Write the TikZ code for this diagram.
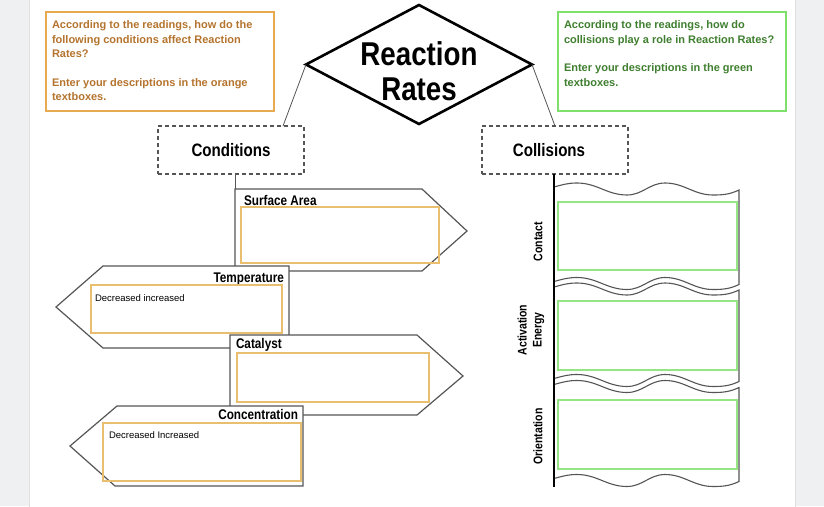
\documentclass[tikz,border=0pt]{standalone}
\usepackage{fontspec}
\setmainfont{Liberation Sans}
\newfontfamily\condfont[FakeStretch=0.84]{Liberation Sans}
\usetikzlibrary{shapes.geometric}
\definecolor{pagegrey}{HTML}{EFF0F2}
\definecolor{darkgrey}{HTML}{555555}
\definecolor{orangeline}{HTML}{E8AA50}
\definecolor{orangebox}{HTML}{E9BE6E}
\definecolor{orangetext}{HTML}{B5742E}
\definecolor{greenline}{HTML}{7EE06A}
\definecolor{greenbox}{HTML}{95E585}
\definecolor{greentext}{HTML}{3F7F2F}
\begin{document}
\begin{tikzpicture}[x=1pt,y=-1pt,
  every node/.style={outer sep=0pt},
  notebox/.style={draw=#1, line width=1.4pt, anchor=north west, minimum width=228pt, minimum height=99pt},
  notetext/.style={anchor=north west, inner sep=0pt, align=left, text=#1, font=\bfseries\fontsize{11}{14.3}\selectfont},
  headbox/.style={draw=darkgrey, dash pattern=on 4pt off 3pt, line width=1.1pt, minimum width=146pt, minimum height=48pt, font=\condfont\bfseries\fontsize{18}{20}\selectfont},
  sign/.style={draw=darkgrey, line width=1.2pt, fill=white},
  signlabel/.style={inner sep=0pt, font=\condfont\bfseries\fontsize{14}{16}\selectfont},
  answerbox/.style={draw=#1, line width=1.2pt, anchor=north west},
  answertext/.style={inner sep=0pt, anchor=base west, font=\fontsize{9.5}{11}\selectfont},
  sidelabel/.style={rotate=90, align=center, inner sep=0pt, font=\condfont\bfseries\fontsize{12.5}{15}\selectfont},
  wave/.style={draw=darkgrey, line width=1.1pt, fill=white},
  link/.style={draw=darkgrey, line width=0.8pt}]
\useasboundingbox (0,0) rectangle (824,506);
\fill[pagegrey] (0,0) rectangle (824,506);
\fill[white, draw=gray!25] (29,-2) rectangle (795,508);
\node[notebox=orangeline] (condNote) at (46,12) {};
\node[notetext=orangetext] (condNoteText) at ([xshift=6pt,yshift=-9pt]condNote.north west) {According to the readings, how do the\\following conditions affect Reaction\\Rates?\\[14.3pt]Enter your descriptions in the orange\\textboxes.};
\node[notebox=greenline] (collNote) at (558,12) {};
\node[notetext=greentext] (collNoteText) at ([xshift=6pt,yshift=-9pt]collNote.north west) {According to the readings, how do\\collisions play a role in Reaction Rates?\\[14.3pt]Enter your descriptions in the green\\textboxes.};
\node[diamond, draw, line width=2.6pt, minimum width=226pt, minimum height=119pt, inner sep=0pt] (rates) at (419,64.5) {};
\node[align=center, inner sep=0pt, font=\condfont\bfseries\fontsize{33}{35}\selectfont] (ratesText) at ([yshift=-7pt]rates.center) {Reaction\\Rates};
\node[headbox] (cond) at (231,150) {Conditions};
\node[headbox] (coll) at (555,150) {Collisions\hspace*{12pt}};
\draw[link] (rates.west) -- ([xshift=52pt]cond.north);
\draw[link] (rates.east) -- (coll.north);
\coordinate (sa) at (235,189);
\draw[link] (cond.south -| sa) -- (sa);
\draw[sign] (sa) -- ++(187,0) -- ++(45,42) -- ++(-45,40) -- ++(-187,0) -- cycle;
\node[signlabel, anchor=base west] (saLabel) at (244,205) {Surface Area};
\node[answerbox=orangebox, minimum width=198pt, minimum height=56pt] (saBox) at (241,207) {};
\coordinate (temp) at (289,266);
\draw[sign] (temp) -- ++(-186,0) -- ++(-47,41) -- ++(47,41) -- ++(186,0) -- cycle;
\node[signlabel, anchor=base east] (tempLabel) at (284,282) {Temperature};
\node[answerbox=orangebox, minimum width=191pt, minimum height=48pt] (tempBox) at (91,285) {};
\node[answertext] (tempText) at (95,301) {Decreased increased};
\coordinate (cat) at (230,335);
\draw[sign] (cat) -- ++(187,0) -- ++(46,41) -- ++(-46,39) -- ++(-187,0) -- cycle;
\node[signlabel, anchor=base west] (catLabel) at (236,348) {Catalyst};
\node[answerbox=orangebox, minimum width=192pt, minimum height=49pt] (catBox) at (237,353) {};
\coordinate (conc) at (303,406);
\draw[sign] (conc) -- ++(-186,0) -- ++(-47,40) -- ++(45,40) -- ++(188,0) -- cycle;
\node[signlabel, anchor=base east] (concLabel) at (298,419) {Concentration};
\node[answerbox=orangebox, minimum width=198pt, minimum height=58pt] (concBox) at (103,423) {};
\node[answertext] (concText) at (109,438) {Decreased Increased};
\foreach \ytop/\ybot in {189/283.5, 289/380.5, 386.5/480.5}
  \draw[wave] (554,\ytop-2) to[out=15,in=180] (577,\ytop-6) to[out=0,in=180] (627,\ytop+6)
    to[out=0,in=180] (665,\ytop-6) to[out=0,in=180] (713,\ytop+6) to[out=0,in=205] (739,\ytop+1)
    -- (739,\ybot+1) to[out=205,in=0] (713,\ybot+6) to[out=180,in=0] (665,\ybot-6)
    to[out=180,in=0] (627,\ybot+6) to[out=180,in=0] (577,\ybot-6) to[out=180,in=15] (554,\ybot-2) -- cycle;
\coordinate (spine) at (554,487);
\draw[line width=1.8pt] (coll.south -| spine) -- (spine);
\node[answerbox=greenbox, minimum width=179pt, minimum height=68pt] (contactBox) at (558,202) {};
\node[answerbox=greenbox, minimum width=179pt, minimum height=69pt] (activationBox) at (558,301) {};
\node[answerbox=greenbox, minimum width=179pt, minimum height=69pt] (orientationBox) at (558,400) {};
\node[sidelabel] (contactLabel) at (538,241.5) {Contact};
\node[sidelabel] (activationLabel) at (531,330) {Activation\\Energy};
\node[sidelabel] (orientationLabel) at (538,436.5) {Orientation};
\end{tikzpicture}
\end{document}
